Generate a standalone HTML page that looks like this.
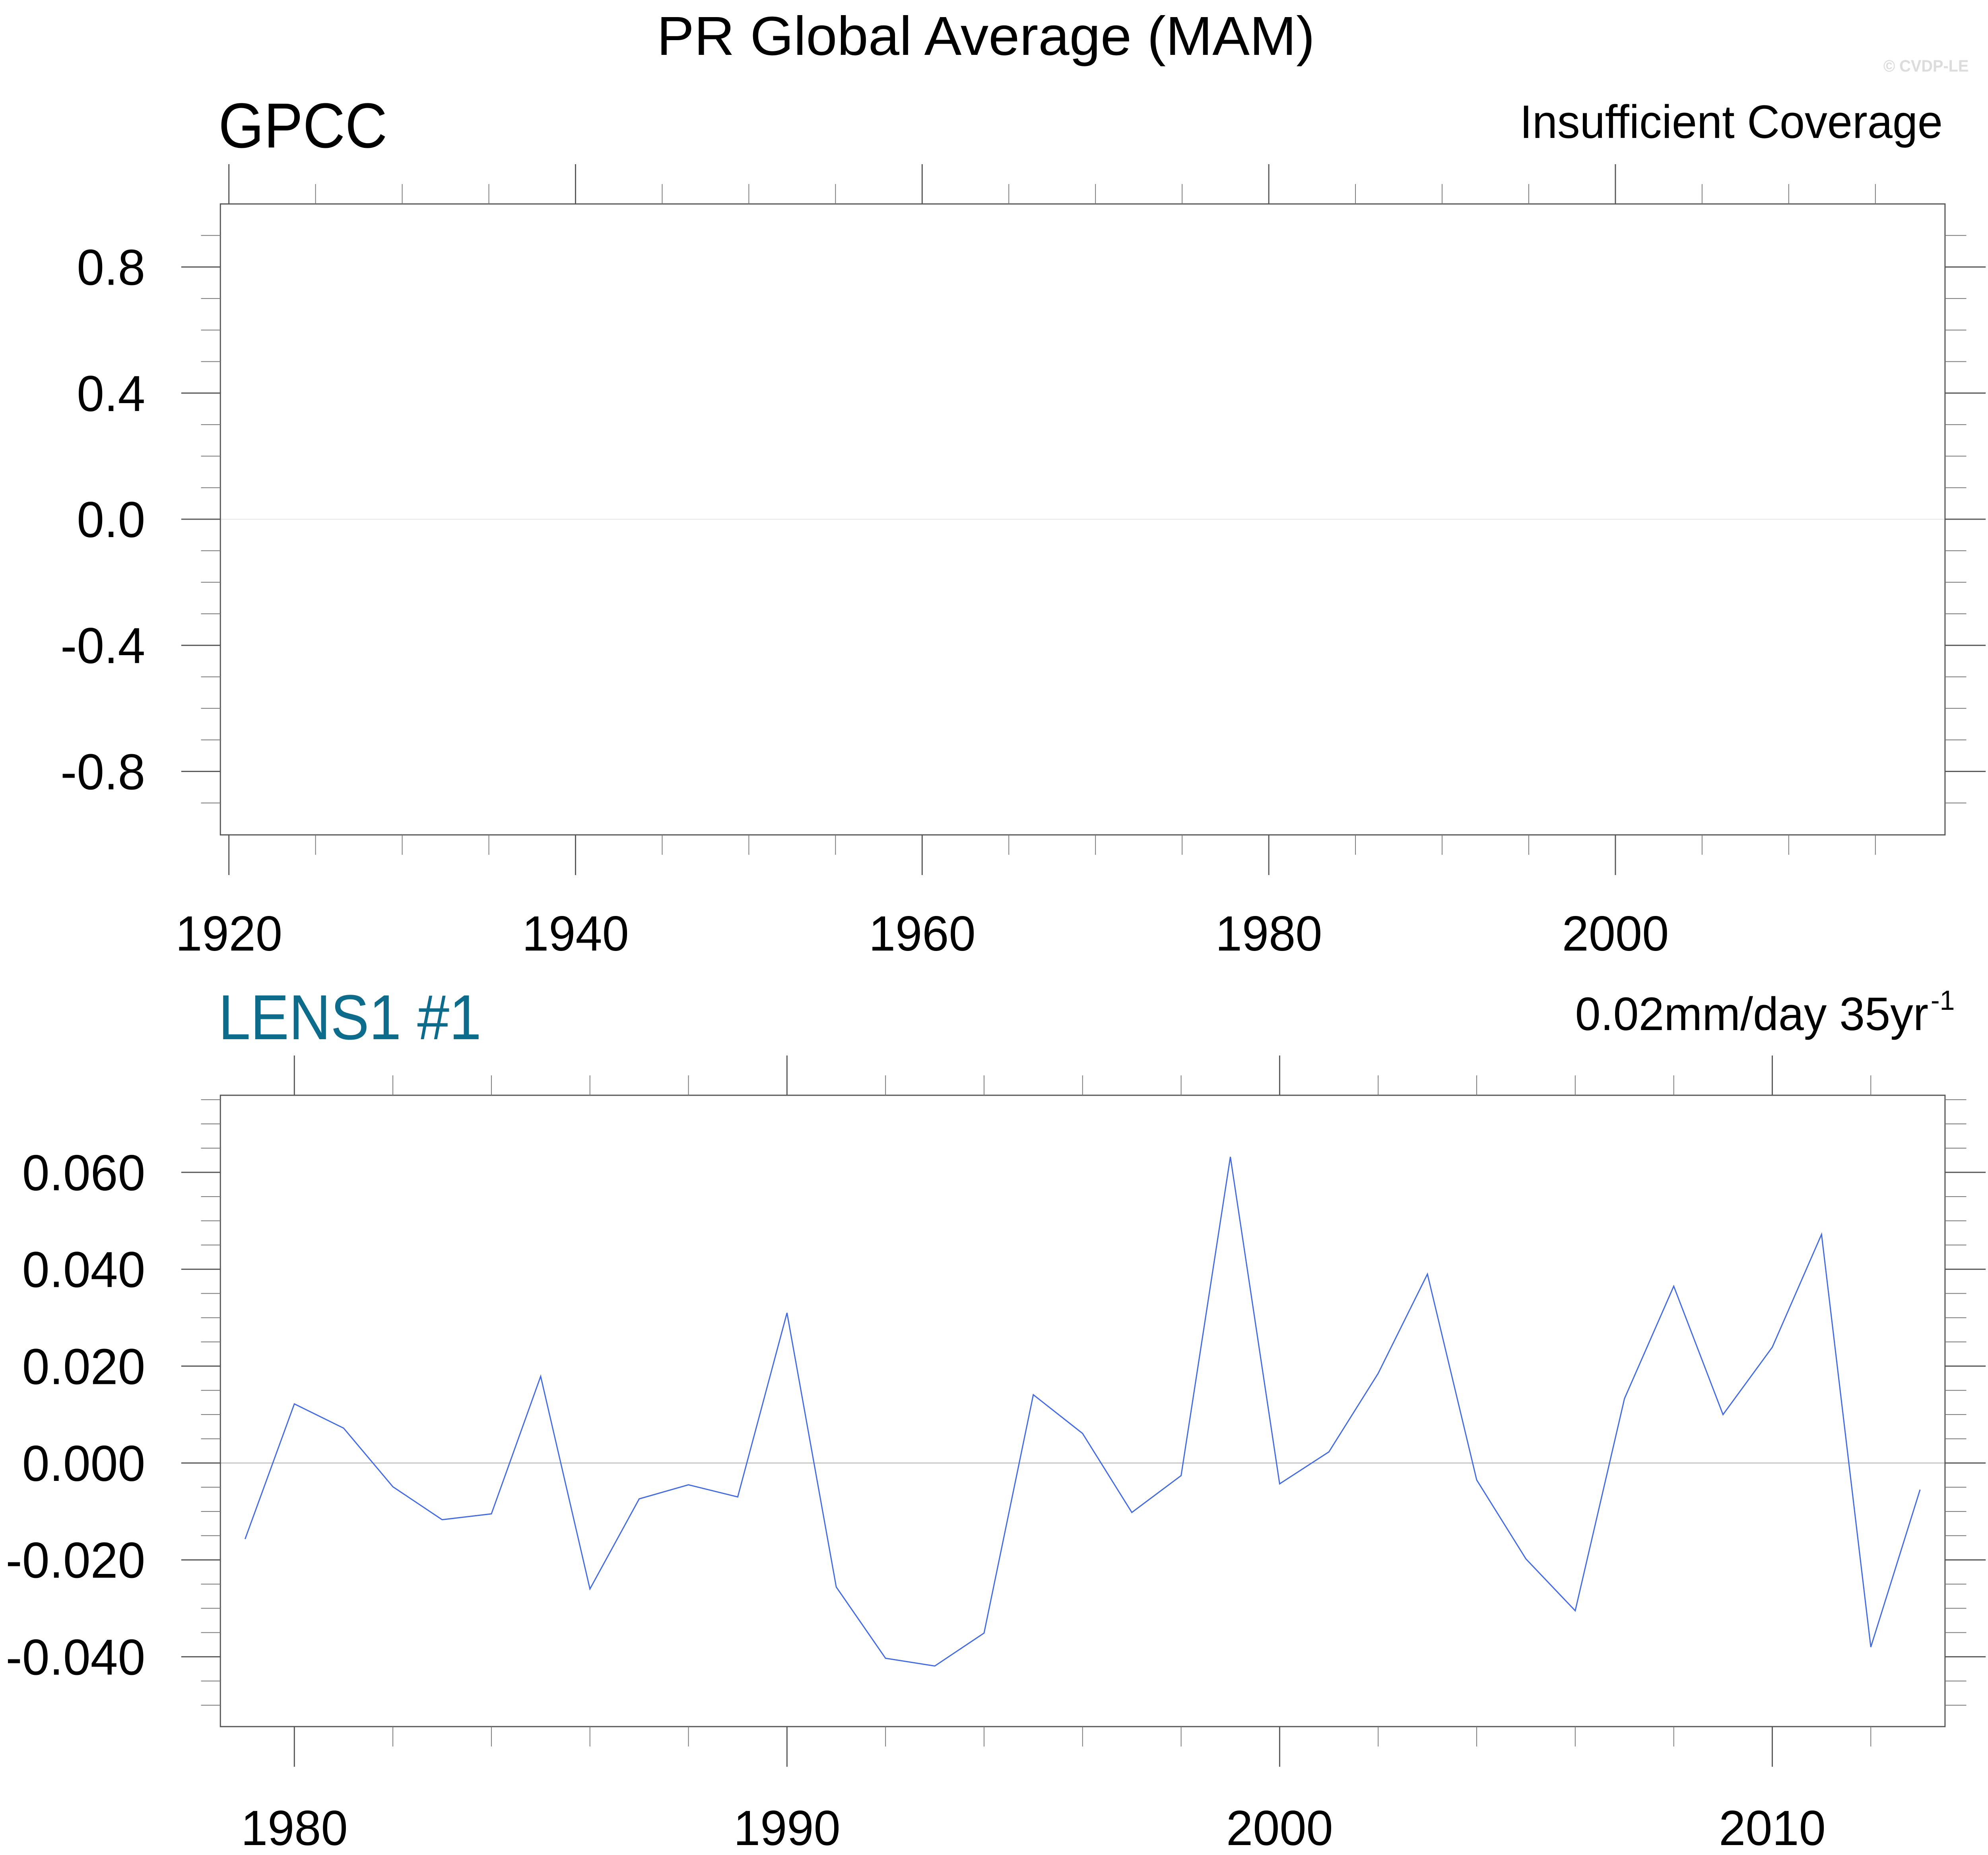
<!DOCTYPE html>
<html><head><meta charset="utf-8"><style>
html,body{margin:0;padding:0;background:#fff;overflow:hidden;width:100%;height:100%;}
svg{display:block;font-family:"Liberation Sans",sans-serif;width:100vw;height:100vh;}
</style></head><body>
<svg id="chart" viewBox="0 0 5133 4666" preserveAspectRatio="none" xmlns="http://www.w3.org/2000/svg">
<rect x="0" y="0" width="5133" height="4666" fill="#fff"/>
<text x="1696" y="138" font-size="138" textLength="1699" lengthAdjust="spacingAndGlyphs">PR Global Average (MAM)</text>
<text x="4863" y="180" font-size="42" font-weight="bold" fill="#dcdcdc" textLength="220" lengthAdjust="spacingAndGlyphs">© CVDP-LE</text>
<text x="564" y="371" font-size="160" textLength="436" lengthAdjust="spacingAndGlyphs">GPCC</text>
<text x="3924" y="347" font-size="118" textLength="1092" lengthAdjust="spacingAndGlyphs">Insufficient Coverage</text>
<text x="564" y="2614" font-size="160" fill="#0d6b8c" textLength="679" lengthAdjust="spacingAndGlyphs">LENS1 #1</text>
<text x="4067" y="2591" font-size="118" textLength="912" lengthAdjust="spacingAndGlyphs">0.02mm/day 35yr</text>
<text x="4985" y="2540" font-size="70">-1</text>
<g id="top"></g>
<g id="bot"></g>
</svg>
<script>
// Bottom panel data (LENS1 #1)
const years = [1979,1980,1981,1982,1983,1984,1985,1986,1987,1988,1989,1990,1991,1992,1993,1994,1995,1996,1997,1998,1999,2000,2001,2002,2003,2004,2005,2006,2007,2008,2009,2010,2011,2012,2013];
const values = [-0.0157,0.0122,0.0072,-0.0049,-0.0117,-0.0105,0.0179,-0.0260,-0.0074,-0.0045,-0.0070,0.0310,-0.0256,-0.0403,-0.0419,-0.0351,0.0141,0.0061,-0.0102,-0.0026,0.0632,-0.0043,0.0023,0.0185,0.0390,-0.0035,-0.0198,-0.0305,0.0133,0.0365,0.0100,0.0239,0.0472,-0.0380,-0.0055];
const botYTicks = [0.06,0.04,0.02,0.0,-0.02,-0.04];
const botYTickLabels = ["0.060","0.040","0.020","0.000","-0.020","-0.040"];
const botXTicks = [1980,1990,2000,2010];
const topYTicks = [0.8,0.4,0.0,-0.4,-0.8];
const topYTickLabels = ["0.8","0.4","0.0","-0.4","-0.8"];
const topXTicks = [1920,1940,1960,1980,2000];

const NS="http://www.w3.org/2000/svg";
function mk(parent,tag,attrs){const e=document.createElementNS(NS,tag);for(const k in attrs)e.setAttribute(k,attrs[k]);parent.appendChild(e);return e;}
const L=569,R=5022;
const T1=513,B1=2100;
const tx=y=>591+(y-1920)*44.75;
const ty=v=>1306-v*793;
const T2=2755,B2=4343;
const bx=y=>760+(y-1980)*127.2;
const by=v=>3680-v/0.02*243.7;

function panel(g,T,B,xFn,yFn,xMaj,xMin,yMaj,yMin,yLabels,xLabelY,zeroColor){
  let e;
  e=mk(g,'line',{x1:L,x2:R,y1:yFn(0),y2:yFn(0),stroke:zeroColor,'stroke-width':2});
  
  
  e=mk(g,'rect',{x:L,y:T,width:R-L,height:B-T,fill:'none',stroke:'#555','stroke-width':3});
  
  
  yMin.forEach(v=>{const y=yFn(v);
    e=mk(g,'line',{x1:519,x2:L,y1:y,y2:y,stroke:'#777','stroke-width':2});
    
    
    e=mk(g,'line',{x1:R,x2:5077,y1:y,y2:y,stroke:'#777','stroke-width':2});
    
    });
  yMaj.forEach((v,i)=>{const y=yFn(v);
    e=mk(g,'line',{x1:468,x2:L,y1:y,y2:y,stroke:'#555','stroke-width':3});
    
    
    e=mk(g,'line',{x1:R,x2:5127,y1:y,y2:y,stroke:'#555','stroke-width':3});
    
    
    e=mk(g,'text',{x:375,y:y+45,'font-size':127,'text-anchor':'end'});e.textContent=yLabels[i];
    
    });
  xMin.forEach(v=>{const x=xFn(v);
    e=mk(g,'line',{x1:x,x2:x,y1:T-50,y2:T,stroke:'#777','stroke-width':2});
    
    
    e=mk(g,'line',{x1:x,x2:x,y1:B,y2:B+50,stroke:'#777','stroke-width':2});
    
    });
  xMaj.forEach(v=>{const x=xFn(v);
    e=mk(g,'line',{x1:x,x2:x,y1:T-100,y2:T,stroke:'#555','stroke-width':3});
    
    
    e=mk(g,'line',{x1:x,x2:x,y1:B,y2:B+101,stroke:'#555','stroke-width':3});
    
    
    e=mk(g,'text',{x:x,y:xLabelY,'font-size':124,'text-anchor':'middle'});e.textContent=String(v);
    
    });
}
const topG=document.getElementById('top');
const topXMin=[];for(let y=1925;y<=2015;y+=5)if(y%20)topXMin.push(y);
const topYMin=[];for(let k=-9;k<=9;k++)if(k%4)topYMin.push(k/10);
panel(topG,T1,B1,tx,ty,topXTicks,topXMin,topYTicks,topYMin,topYTickLabels,2391,'#e6e6e6');

const botG=document.getElementById('bot');
const botXMin=[];for(let y=1982;y<=2012;y+=2)if(y%10)botXMin.push(y);
const botYMin=[];for(let k=-10;k<=15;k++)if(k%4)botYMin.push(k*0.005);
panel(botG,T2,B2,bx,by,botXTicks,botXMin,botYTicks,botYMin,botYTickLabels,4641,'#b0b0b0');

const pts=years.map((y,i)=>bx(y).toFixed(1)+','+by(values[i]).toFixed(1)).join(' ');
const line=mk(botG,'polyline',{points:pts,fill:'none',stroke:'#4169e1','stroke-width':3,'stroke-linejoin':'miter'});


</script>
</body></html>
